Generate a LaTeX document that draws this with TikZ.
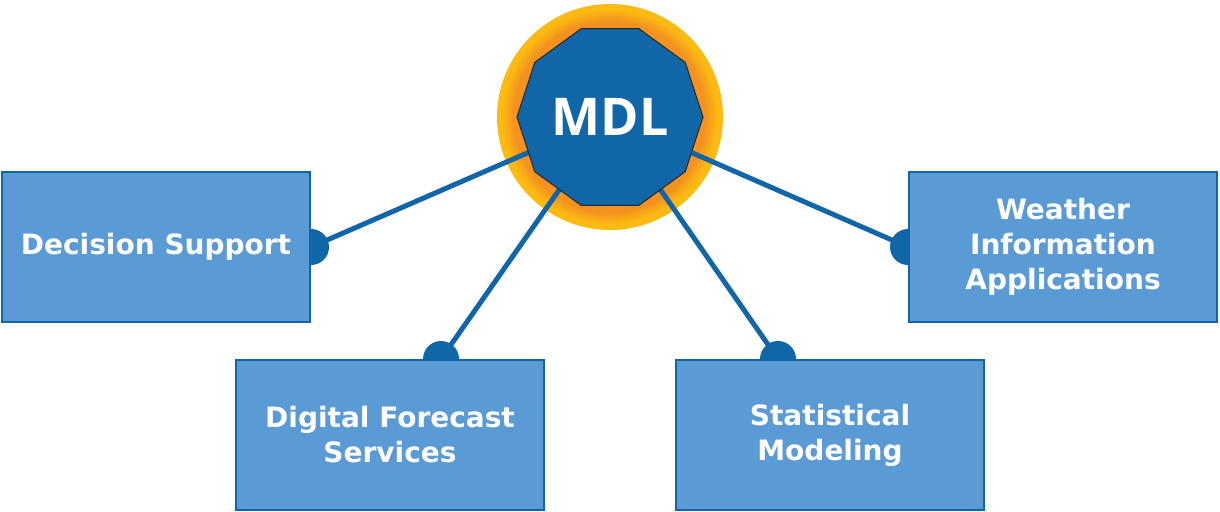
\documentclass[tikz,border=0pt]{standalone}
\usepackage{fontspec}
\setmainfont{DejaVu Sans}
\newfontfamily\mdlfont{Open Sans}
\usetikzlibrary{shapes.geometric}
\usetikzlibrary{positioning}
\usetikzlibrary{backgrounds}
\definecolor{mdlblue}{RGB}{16,102,166}
\definecolor{boxblue}{RGB}{91,155,213}
\definecolor{ringyellow}{RGB}{253,186,18}
\definecolor{ringorange}{RGB}{243,146,32}

\begin{document}
\begin{tikzpicture}[x=0.5pt,y=-0.5pt,
box/.style={rectangle, draw=mdlblue, line width=1pt, fill=boxblue,
  minimum width=154pt, minimum height=75pt, align=center, text=white,
  font=\fontsize{14}{17.5}\selectfont\bfseries},
dot/.style={circle, fill=mdlblue, inner sep=0pt, minimum size=18pt},
link/.style={draw=mdlblue, line width=2.5pt}]
\useasboundingbox (0,0) rectangle (1220,511);
\node[box] (ds) at (156,247) {Decision Support};
\node[box] (wia) at (1063,247) {Weather\\Information\\Applications};
\node[box] (dfs) at (390,435) {Digital Forecast\\Services};
\node[box] (sm) at (830,435) {Statistical\\Modeling};
\begin{scope}[on background layer]
\node[circle, minimum size=113pt, inner sep=0pt, fill=ringyellow] (ring) at (610,117) {};
\foreach \i in {0,...,12}{
  \pgfmathsetmacro\rr{54-0.5*\i}
  \pgfmathsetmacro\mix{100-100*\i/12}
  \fill[ringyellow!\mix!ringorange] (ring.center) circle (\rr pt);
}
\node[dot] (dsdot) at (ds.east) {};
\node[dot] (wiadot) at (wia.west) {};
\node[dot] (dfsdot) at ([xshift=25.5pt]dfs.north) {};
\node[dot] (smdot) at ([xshift=-26pt]sm.north) {};
\draw[link] (dsdot.center) -- (ring.center);
\draw[link] (wiadot.center) -- (ring.center);
\draw[link] (dfsdot.center) -- (ring.center);
\draw[link] (smdot.center) -- (ring.center);
\node[regular polygon, regular polygon sides=10, minimum size=93pt, inner sep=0pt,
  fill=mdlblue, draw=black!85, line width=0.5pt, text=white,
  font=\fontsize{26}{26}\selectfont\mdlfont\bfseries] (mdl) at (ring.center) {MDL};
\end{scope}
\end{tikzpicture}
\end{document}
